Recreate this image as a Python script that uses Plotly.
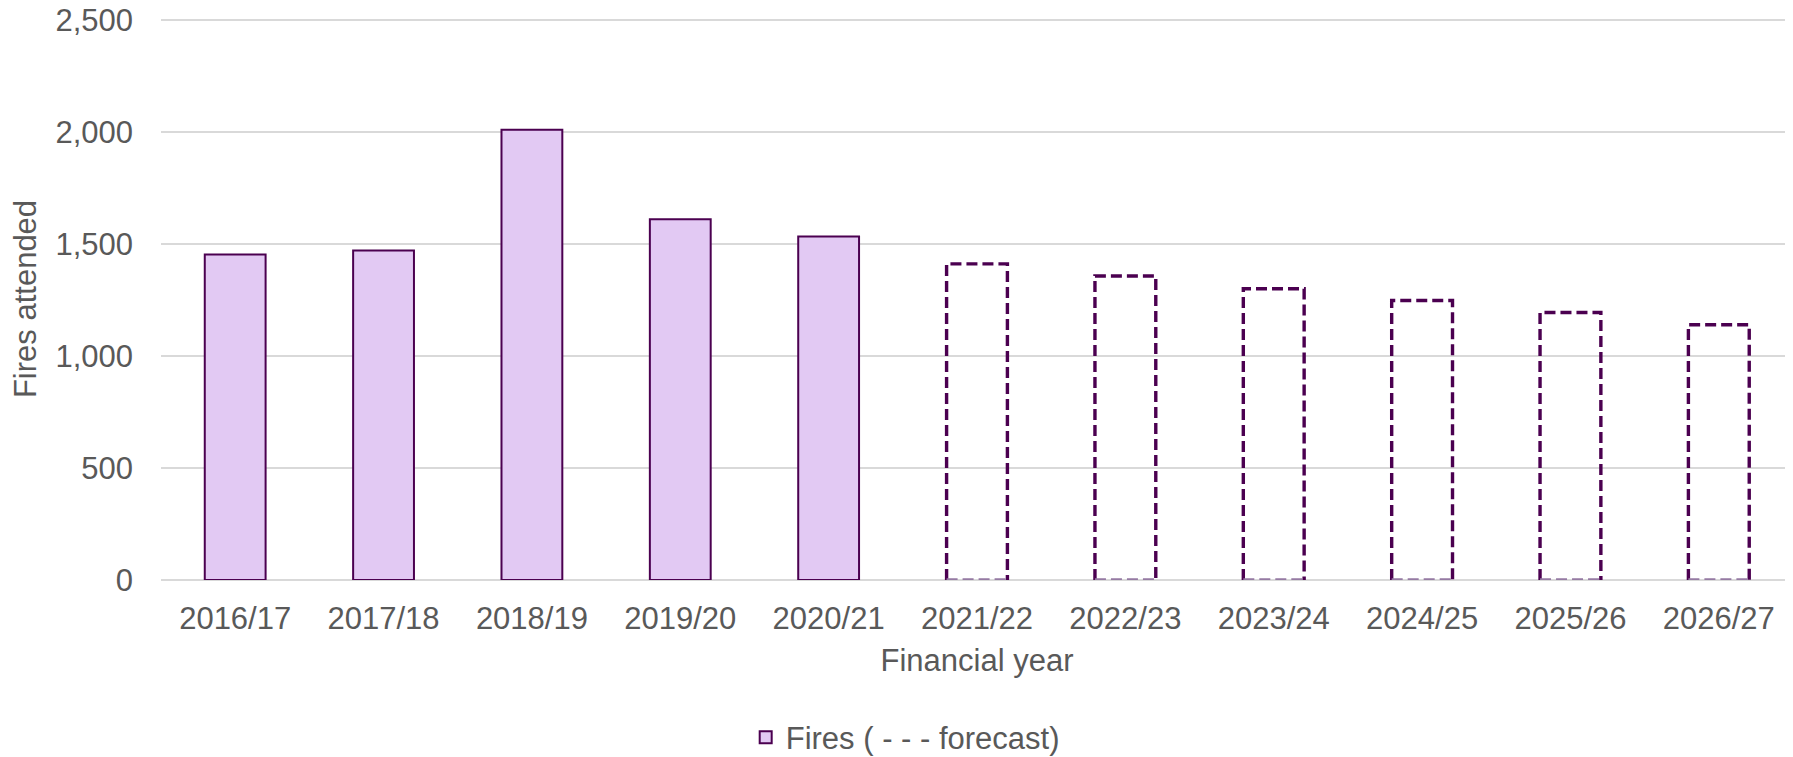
import plotly.graph_objects as go

years = ["2016/17", "2017/18", "2018/19", "2019/20", "2020/21", "2021/22",
         "2022/23", "2023/24", "2024/25", "2025/26", "2026/27"]
actual = [1454, 1472, 2011, 1611, 1534, None, None, None, None, None, None]
forecast = [None, None, None, None, None, 1412, 1358, 1301, 1248, 1195, 1140]
yticks = [0, 500, 1000, 1500, 2000, 2500]
ytick_text = ["0", "500", "1,000", "1,500", "2,000", "2,500"]

FILL = "#E2C9F3"
EDGE = "#4B0050"
EDGE_BOTTOM = "#957AA3"
TXT = "#595959"
BAR_W = 0.41
FS = 31
DASH = "11px,5px"

fig = go.Figure()
fig.add_trace(go.Bar(
    x=years, y=actual, width=BAR_W,
    marker=dict(color=FILL, line=dict(color=EDGE, width=2)),
    name="Fires ( - - - forecast)", showlegend=True,
))
fig.add_trace(go.Bar(
    x=years, y=forecast, width=BAR_W,
    marker=dict(color="rgba(0,0,0,0)", line=dict(width=0)),
    showlegend=False, name="Forecast",
))

for i, v in enumerate(forecast):
    if v is None:
        continue
    xl, xr = i - BAR_W / 2, i + BAR_W / 2
    # left, top and right sides of the forecast bar
    fig.add_shape(type="path", xref="x", yref="y",
                  path=f"M {xl} 0 L {xl} {v} L {xr} {v} L {xr} 0",
                  line=dict(color=EDGE, width=3.4, dash=DASH),
                  layer="above")
    # bottom side (sits on the zero gridline, appears lighter)
    fig.add_shape(type="line", xref="x", yref="y",
                  x0=xl, x1=xr, y0=0, y1=0,
                  line=dict(color=EDGE_BOTTOM, width=3.4, dash=DASH),
                  layer="above")

# page body has an 8px default margin; figure is sized/offset to compensate
fig.update_layout(
    width=1785, height=749,
    margin=dict(l=153, r=0, t=10.4, b=177, autoexpand=False),
    paper_bgcolor="white", plot_bgcolor="white",
    font=dict(family="Liberation Sans, Arial, sans-serif", size=FS, color=TXT),
    barmode="overlay",
    showlegend=True,
    legend=dict(orientation="h", x=0.456, xanchor="center",
                yref="container", y=0.026, yanchor="middle",
                font=dict(size=FS, color=TXT), itemsizing="constant"),
    xaxis=dict(categoryorder="array", categoryarray=years, showgrid=False,
               showline=False, ticks="", tickfont=dict(size=FS, color=TXT),
               ticklabelstandoff=17, automargin=False,
               title=dict(text="Financial year", font=dict(size=FS, color=TXT), standoff=14),
               range=[-0.5, len(years) - 0.5]),
    yaxis=dict(range=[0, 2510], tickvals=yticks, ticktext=ytick_text,
               showgrid=True, gridcolor="#D9D9D9", gridwidth=1.5,
               zeroline=True, zerolinecolor="#D9D9D9", zerolinewidth=1.5,
               showline=False, ticks="", ticklabelstandoff=27, automargin=False,
               ticklabeloverflow="allow",
               tickfont=dict(size=FS, color=TXT),
               title=dict(text="Fires attended", font=dict(size=FS, color=TXT), standoff=10)),
)

fig.write_html("out.html")
